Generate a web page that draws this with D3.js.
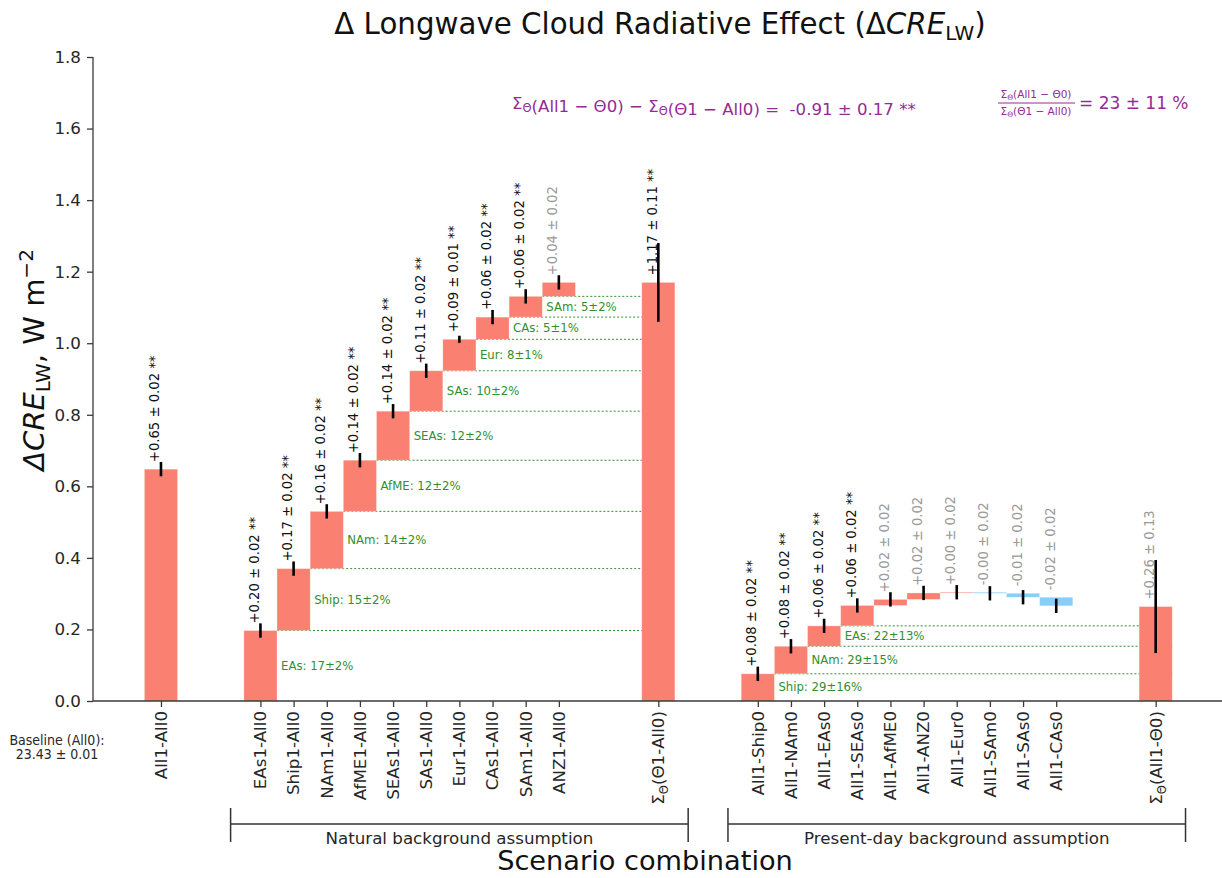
<!DOCTYPE html>
<html>
<head>
<meta charset="utf-8">
<script src="https://cdn.jsdelivr.net/npm/d3@7"></script>
<style>
  html, body { margin: 0; padding: 0; background: #fff; }
  text { font-family: "DejaVu Sans", sans-serif; }
</style>
</head>
<body>
<svg id="chart" width="1222" height="878"></svg>
<script>
// ---- data ----------------------------------------------------------------
const allLabel = "All1-All0";
const allValue = 0.648, allErr = 0.02, allSig = true;

const naturalCats = ["EAs1-All0", "Ship1-All0", "NAm1-All0", "AfME1-All0", "SEAs1-All0",
                     "SAs1-All0", "Eur1-All0", "CAs1-All0", "SAm1-All0", "ANZ1-All0"];
const naturalInc  = [0.197, 0.173, 0.160, 0.143, 0.137, 0.113, 0.088, 0.062, 0.058, 0.039];
const naturalErr  = [0.02, 0.02, 0.02, 0.02, 0.02, 0.02, 0.01, 0.02, 0.02, 0.02];
const naturalSig  = [true, true, true, true, true, true, true, true, true, false];
const naturalShare = ["EAs: 17±2%", "Ship: 15±2%", "NAm: 14±2%", "AfME: 12±2%", "SEAs: 12±2%",
                      "SAs: 10±2%", "Eur: 8±1%", "CAs: 5±1%", "SAm: 5±2%"];
const naturalTotal = 1.170, naturalTotalErr = 0.11, naturalTotalSig = true;

const presentCats = ["All1-Ship0", "All1-NAm0", "All1-EAs0", "All1-SEAs0", "All1-AfME0",
                     "All1-ANZ0", "All1-Eur0", "All1-SAm0", "All1-SAs0", "All1-CAs0"];
const presentInc  = [0.076, 0.077, 0.057, 0.057, 0.017, 0.018, 0.002, -0.003, -0.011, -0.024];
const presentErr  = [0.02, 0.02, 0.02, 0.02, 0.02, 0.02, 0.02, 0.02, 0.02, 0.02];
const presentSig  = [true, true, true, true, false, false, false, false, false, false];
const presentShare = ["Ship: 29±16%", "NAm: 29±15%", "EAs: 22±13%"];
const presentTotal = 0.264, presentTotalErr = 0.13, presentTotalSig = false;

const yTicks = [0.0, 0.2, 0.4, 0.6, 0.8, 1.0, 1.2, 1.4, 1.6, 1.8];

// slot positions along the category axis
const allPos = 0, naturalStart = 3, naturalSumPos = 15, presentStart = 18, presentSumPos = 30;

// ---- layout --------------------------------------------------------------
const svg = d3.select("#chart");
const W = 1222;
const plotLeft = 93, plotBottom = 701, plotTop = 57;
const x = d3.scaleLinear().domain([-2.05, 32]).range([plotLeft, W]);
const y = d3.scaleLinear().domain([0, 1.8]).range([plotBottom, plotTop]);
const bw = x(1) - x(0);

const RED = "#fa8072", BLUE = "#87cefa", GREEN = "#2f8f2f", PURPLE = "#952a95";
const AXIS = "#3a3a3a";

const fmt = v => (v < 0 ? "-" : "+") + Math.abs(v).toFixed(2);

// build waterfall records
function waterfall(cats, inc, err, sig, start) {
  let c = 0;
  return cats.map((name, i) => {
    const prev = c; c += inc[i];
    return { name, pos: start + i, lo: Math.min(prev, c), hi: Math.max(prev, c),
             end: c, inc: inc[i], err: err[i], sig: sig[i], neg: inc[i] < 0 };
  });
}
const natural = waterfall(naturalCats, naturalInc, naturalErr, naturalSig, naturalStart);
const present = waterfall(presentCats, presentInc, presentErr, presentSig, presentStart);

const solo = [
  { name: allLabel, pos: allPos, lo: 0, hi: allValue, end: allValue, inc: allValue, err: allErr, sig: allSig },
  { name: "sumNat", pos: naturalSumPos, lo: 0, hi: naturalTotal, end: naturalTotal, inc: naturalTotal, err: naturalTotalErr, sig: naturalTotalSig },
  { name: "sumPres", pos: presentSumPos, lo: 0, hi: presentTotal, end: presentTotal, inc: presentTotal, err: presentTotalErr, sig: presentTotalSig }
];
const bars = solo.concat(natural, present);

// ---- green guide lines & shares -----------------------------------------
const guides = svg.append("g");
function drawGuides(recs, shares, sumPos) {
  shares.forEach((label, i) => {
    const r = recs[i];
    const x0 = x(r.pos) + bw / 2, x1 = x(sumPos) + bw / 2;
    guides.append("line")
      .attr("x1", x0).attr("x2", x1)
      .attr("y1", y(r.end)).attr("y2", y(r.end))
      .attr("stroke", GREEN).attr("stroke-width", 1)
      .attr("stroke-dasharray", "2,2");
    const prev = i === 0 ? 0 : recs[i - 1].end;
    guides.append("text")
      .attr("x", x0 + 4).attr("y", y((prev + r.end) / 2))
      .attr("dy", "0.35em")
      .attr("font-size", 11.7).attr("fill", GREEN)
      .text(label);
  });
}
drawGuides(natural, naturalShare, naturalSumPos);
drawGuides(present, presentShare, presentSumPos);

// ---- bars ----------------------------------------------------------------
svg.append("g").selectAll("rect").data(bars).join("rect")
  .attr("x", d => x(d.pos) - bw / 2)
  .attr("width", bw)
  .attr("y", d => y(d.hi))
  .attr("height", d => Math.max(y(d.lo) - y(d.hi), 0.8))
  .attr("fill", d => d.neg ? BLUE : RED)
  .attr("stroke", "#fff").attr("stroke-opacity", 0.35).attr("stroke-width", 0.8);

// error bars
svg.append("g").selectAll("line").data(bars).join("line")
  .attr("x1", d => x(d.pos)).attr("x2", d => x(d.pos))
  .attr("y1", d => y(d.end - d.err)).attr("y2", d => y(d.end + d.err))
  .attr("stroke", "#000").attr("stroke-width", 2.6);

// value labels, set just above the top of each bar
svg.append("g").selectAll("text").data(bars).join("text")
  .attr("transform", d => `translate(${x(d.pos) - 1.5},${y(d.hi) - 7}) rotate(-90)`)
  .attr("font-size", 13.2)
  .attr("fill", d => d.sig ? "#111" : "#9a9a9a")
  .text(d => `${fmt(d.inc)} ± ${d.err.toFixed(2)}${d.sig ? " **" : ""}`);

// ---- axes ----------------------------------------------------------------
const yAxis = d3.axisLeft(y).tickValues(yTicks).tickFormat(d3.format(".1f")).tickSize(6).tickPadding(6);
const gy = svg.append("g").attr("transform", `translate(${plotLeft},0)`).call(yAxis);
gy.select(".domain").attr("stroke", AXIS).attr("stroke-width", 1.3).attr("d", `M0,${plotTop}V${plotBottom}`);
gy.selectAll(".tick line").attr("stroke", AXIS).attr("stroke-width", 1.3);
gy.selectAll(".tick text").attr("font-size", 16.7).attr("fill", "#262626").attr("font-family", "DejaVu Sans");

const tickPos = [allPos].concat(natural.map(d => d.pos), [naturalSumPos], present.map(d => d.pos), [presentSumPos]);
const xAxis = d3.axisBottom(x).tickValues(tickPos).tickFormat("").tickSize(6);
const gx = svg.append("g").attr("transform", `translate(0,${plotBottom})`).call(xAxis);
gx.select(".domain").attr("stroke", AXIS).attr("stroke-width", 1.3).attr("d", `M${plotLeft},0H${W}`);
gx.selectAll(".tick line").attr("stroke", AXIS).attr("stroke-width", 1.3);

// rotated category labels
const tickLabels = svg.append("g");
function catLabel(pos, build) {
  const t = tickLabels.append("text")
    .attr("transform", `translate(${x(pos)},${plotBottom + 10}) rotate(-90)`)
    .attr("text-anchor", "end").attr("dy", "0.35em")
    .attr("font-size", 16.7).attr("fill", "#262626");
  build(t);
}
const plain = s => t => t.text(s);
const sigma = (inner) => t => {
  t.append("tspan").text("Σ");
  t.append("tspan").attr("font-size", 11.5).attr("dy", 4).text("Θ");
  t.append("tspan").attr("dy", -4).text(inner);
};
catLabel(allPos, plain(allLabel));
natural.forEach(d => catLabel(d.pos, plain(d.name)));
catLabel(naturalSumPos, sigma("(Θ1-All0)"));
present.forEach(d => catLabel(d.pos, plain(d.name)));
catLabel(presentSumPos, sigma("(All1-Θ0)"));

// baseline note
const base = svg.append("g").attr("font-size", 14).attr("fill", "#262626").attr("text-anchor", "middle");
base.append("text").attr("x", 57).attr("y", 745).attr("font-stretch", "condensed").text("Baseline (All0):");
base.append("text").attr("x", 57).attr("y", 759).attr("font-stretch", "condensed").text("23.43 ± 0.01");

// ---- group brackets --------------------------------------------------------
function bracket(p0, p1, label) {
  const g = svg.append("g").attr("stroke", "#333").attr("stroke-width", 1.5);
  const xa = x(p0), xb = x(p1), yb = 824;
  g.append("line").attr("x1", xa).attr("x2", xb).attr("y1", yb).attr("y2", yb);
  g.append("line").attr("x1", xa).attr("x2", xa).attr("y1", yb - 16).attr("y2", yb + 18);
  g.append("line").attr("x1", xb).attr("x2", xb).attr("y1", yb - 16).attr("y2", yb + 18);
  svg.append("text").attr("x", (xa + xb) / 2).attr("y", yb + 20)
    .attr("text-anchor", "middle").attr("font-size", 16.7).attr("fill", "#262626").text(label);
}
bracket(naturalStart - 0.9, naturalSumPos + 0.9, "Natural background assumption");
bracket(presentStart - 0.9, presentSumPos + 0.9, "Present-day background assumption");

// ---- titles ----------------------------------------------------------------
const title = svg.append("text").attr("x", 660).attr("y", 34)
  .attr("text-anchor", "middle").attr("font-size", 29.3).attr("fill", "#111");
title.append("tspan").text("Δ Longwave Cloud Radiative Effect (Δ");
title.append("tspan").attr("font-style", "italic").text("CRE");
title.append("tspan").attr("font-size", 20).attr("dy", 6).text("LW");
title.append("tspan").attr("dy", -6).text(")");

svg.append("text").attr("x", 645).attr("y", 870).attr("text-anchor", "middle")
  .attr("font-size", 27.2).attr("fill", "#111").text("Scenario combination");

const yl = svg.append("text").attr("transform", "translate(44,360) rotate(-90)")
  .attr("text-anchor", "middle").attr("font-size", 29).attr("fill", "#111");
yl.append("tspan").attr("font-style", "italic").text("ΔCRE");
yl.append("tspan").attr("font-size", 20).attr("dy", 6).text("LW");
yl.append("tspan").attr("dy", -6).text(", W m");
yl.append("tspan").attr("font-size", 20).attr("dy", -11).text("−2");

// ---- summary annotations ----------------------------------------------------
const ann = svg.append("text").attr("x", 512).attr("y", 109).attr("font-size", 16.6).attr("fill", PURPLE);
const sub = (t, s) => { t.append("tspan").attr("font-size", 11.5).attr("dy", 3).text(s); t.append("tspan").attr("dy", -3).text(""); };
ann.append("tspan").text("Σ"); sub(ann, "Θ");
ann.append("tspan").text("(All1 − Θ0) − Σ"); sub(ann, "Θ");
ann.append("tspan").attr("xml:space", "preserve").text("(Θ1 − All0) =  -0.91 ± 0.17 **");

const fracX = 1036;
function fracPart(yy, inner) {
  const t = svg.append("text").attr("x", fracX).attr("y", yy).attr("text-anchor", "middle")
    .attr("font-size", 10.5).attr("fill", PURPLE);
  t.append("tspan").text("Σ");
  t.append("tspan").attr("font-size", 7.5).attr("dy", 2).text("Θ");
  t.append("tspan").attr("dy", -2).text(inner);
}
fracPart(98, "(All1 − Θ0)");
fracPart(115, "(Θ1 − All0)");
svg.append("line").attr("x1", 998).attr("x2", 1075).attr("y1", 103).attr("y2", 103)
  .attr("stroke", PURPLE).attr("stroke-width", 1);
svg.append("text").attr("x", 1079).attr("y", 109).attr("font-size", 17).attr("fill", PURPLE)
  .text("= 23 ± 11 %");
</script>
</body>
</html>
